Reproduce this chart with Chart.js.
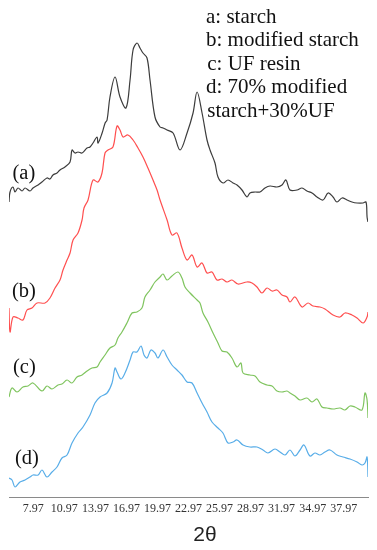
<!DOCTYPE html>
<html>
<head>
<meta charset="utf-8">
<script src="https://cdn.jsdelivr.net/npm/chart.js@4"></script>
<style>
html,body{margin:0;padding:0;background:#fff;}
#wrap{position:relative;width:377px;height:550px;}
</style>
</head>
<body>
<div id="wrap"><canvas id="c" width="377" height="550"></canvas></div>
<script>
// ---- data (2θ in degrees, intensity in arbitrary stacked units) ----
const thetaA = [5.62,5.72,6.01,6.20,6.49,6.88,7.17,7.65,7.94,8.43,8.81,9.29,9.58,9.87,10.26,10.55,11.03,11.52,11.71,12.00,12.29,12.68,13.16,13.45,13.74,14.13,14.23,14.62,14.91,15.10,15.38,15.87,16.35,16.93,17.32,17.61,17.99,18.28,18.57,18.96,19.25,19.73,20.22,20.51,20.90,21.48,22.15,22.83,23.41,23.80,24.28,24.76,25.05,25.53,25.82,26.31,26.79,27.27,27.66,28.14,28.62,28.91,29.40,29.88,30.36,30.85,31.52,32.01,32.39,32.78,33.46,33.94,34.42,34.91,35.39,35.97,36.46,36.94,37.32,37.81,38.29,38.77,39.26,39.84,40.13,40.23,40.32];
const intensityA = [295,305,310,305,309,306,309,306,309,312,315,319,318,322,324,327,330,335,347,344,345,344,349,350,354,360,354,364,374,377,400,420,400,389,417,447,454,449,444,439,417,380,370,369,367,364,347,364,384,405,384,357,347,334,320,314,317,314,312,307,300,304,305,305,309,311,310,312,317,307,307,309,306,304,300,297,304,300,295,299,297,295,294,294,295,280,275];

const thetaB = [5.62,5.72,6.01,6.49,6.97,7.36,7.84,8.33,9.10,9.58,10.07,10.55,10.84,11.23,11.52,11.81,12.29,12.68,12.87,13.26,13.74,14.22,14.61,14.90,15.19,15.67,16.06,16.35,16.64,17.12,17.61,18.09,18.57,19.05,19.54,19.93,20.22,20.90,21.37,21.86,22.34,22.83,23.31,23.80,24.28,24.76,25.24,25.72,26.21,26.69,27.17,27.75,28.62,29.11,29.59,30.07,30.56,31.04,31.52,32.01,32.49,32.78,33.26,33.94,34.52,35.00,35.68,36.16,36.94,37.61,38.09,38.77,39.26,39.84,40.23,40.32];
const intensityB = [189,165,180,179,177,187,189,194,194,199,209,217,227,237,244,257,264,277,289,297,317,315,324,344,347,350,371,367,360,362,357,349,340,329,317,307,297,277,262,264,249,237,242,230,234,224,225,217,218,215,217,213,215,214,210,204,209,206,207,202,200,195,200,190,194,191,190,188,182,180,184,182,179,174,180,185];

const thetaC = [5.62,5.91,6.39,6.97,7.46,7.94,8.81,9.29,9.78,10.36,10.74,11.23,11.71,12.19,12.68,13.16,13.64,14.13,14.42,14.90,15.38,15.87,16.15,16.54,17.02,17.51,17.99,18.47,18.76,19.25,19.73,20.22,20.51,20.90,21.37,21.95,22.34,22.63,23.12,23.80,24.08,24.37,24.85,25.34,25.82,26.21,26.69,27.17,27.66,28.04,28.24,28.91,29.40,29.88,30.56,31.04,31.52,32.01,32.49,32.78,33.26,33.75,34.42,34.91,35.39,35.87,36.36,36.94,37.61,38.09,38.58,39.06,39.74,40.03,40.23,40.32];
const intensityC = [100,109,105,110,111,114,106,111,108,112,113,117,114,120,122,126,129,130,135,142,149,152,159,165,174,184,185,189,200,207,215,220,223,217,221,225,219,210,204,197,194,184,175,164,154,146,145,139,130,134,124,122,121,115,112,111,106,105,106,104,101,97,99,95,98,90,89,88,89,87,91,90,87,104,97,79];

const thetaD = [5.62,5.91,6.20,6.68,7.17,7.65,7.94,8.43,8.81,9.29,9.78,10.26,10.74,11.23,11.71,12.29,12.77,13.45,13.93,14.42,15.10,15.58,15.87,16.06,16.44,16.83,17.32,17.61,17.99,18.38,18.67,18.96,19.34,19.73,20.02,20.51,20.90,21.37,21.86,22.34,22.83,23.31,23.80,24.28,24.76,25.24,25.82,26.30,26.79,27.27,27.66,28.24,28.91,29.59,30.17,30.65,31.33,31.81,32.30,32.78,33.26,33.75,34.13,34.71,35.19,35.68,36.16,36.65,37.32,37.90,38.58,39.26,39.74,40.03,40.23,40.32];
const intensityD = [19,17,10,15,17,20,22,22,27,20,25,30,39,42,54,64,70,82,94,100,104,114,129,125,118,124,137,145,145,151,142,139,147,144,139,147,140,132,127,122,115,114,104,94,85,75,69,64,54,55,57,52,50,50,47,44,48,45,42,47,41,47,52,41,44,42,45,47,42,40,38,35,32,34,40,20];

const tickValues = [7.97,10.97,13.97,16.97,19.97,22.97,25.97,28.97,31.97,34.97,37.97];
const tickLabels = ["7.97","10.97","13.97","16.97","19.97","22.97","25.97","28.97","31.97","34.97","37.97"];
const curveLabels = ["(a)","(b)","(c)","(d)"];
const legendLines = ["a: starch","b: modified starch","c: UF resin","d: 70% modified","starch+30%UF"];
const axisTitle = "2θ";
const seriesColors = ["#3c3c3c","#ff4f4f","#7fc45e","#58ade8"];

function pts(xs, ys){
  const n = Math.min(xs.length, ys.length), out = [];
  for (let i=0;i<n;i++) out.push({x:xs[i], y:ys[i]});
  return out;
}

const series = [pts(thetaA,intensityA), pts(thetaB,intensityB), pts(thetaC,intensityC), pts(thetaD,intensityD)];

const textPlugin = {
  id: 'texts',
  afterDraw(chart){
    const ctx = chart.ctx;
    ctx.save();
    ctx.fillStyle = '#111';
    ctx.textAlign = 'left';
    ctx.textBaseline = 'alphabetic';
    // curve labels
    ctx.font = '20.5px "Liberation Serif", "Times New Roman", serif';
    const labPos = [[12.5,179],[12,296.5],[13,373],[15,464]];
    curveLabels.forEach((t,i)=>ctx.fillText(t, labPos[i][0], labPos[i][1]));
    // legend text
    ctx.font = '21px "Liberation Serif", "Times New Roman", serif';
    const legPos = [[206,23],[206,46],[207.3,69.5],[206,93],[207.3,117]];
    legendLines.forEach((t,i)=>ctx.fillText(t, legPos[i][0], legPos[i][1]));
    // axis title
    ctx.font = '21px "Liberation Sans", Arial, sans-serif';
    ctx.textAlign = 'center';
    ctx.textBaseline = 'middle';
    ctx.fillStyle = '#222';
    ctx.fillText(axisTitle, 205, 535);
    ctx.restore();
  }
};

new Chart(document.getElementById('c'), {
  type: 'line',
  data: {
    datasets: series.map((d,i)=>({
      label: legendLines[i],
      data: d,
      borderColor: seriesColors[i],
      borderWidth: 1.2,
      pointRadius: 0,
      tension: 0.35,
      fill: false
    }))
  },
  options: {
    responsive: false,
    animation: false,
    layout: { padding: { left: 9, right: 9, top: 0, bottom: 0 } },
    plugins: { legend: { display: false }, tooltip: { enabled: false } },
    scales: {
      x: {
        type: 'linear',
        min: 5.62,
        max: 40.32,
        grid: { display: false, drawTicks: false },
        border: { display: true, color: '#8a8a8a', width: 1 },
        afterBuildTicks(scale){ scale.ticks = tickValues.map(v=>({value:v})); },
        afterFit(scale){ scale.height = 53; },
        ticks: {
          autoSkip: false,
          maxRotation: 0,
          padding: 5,
          color: '#333',
          font: { family: '"Liberation Serif", "Times New Roman", serif', size: 12 },
          callback(value, index){ return tickLabels[index]; }
        }
      },
      y: {
        display: false,
        min: 0,
        max: 497
      }
    }
  },
  plugins: [textPlugin]
});
</script>
</body>
</html>
